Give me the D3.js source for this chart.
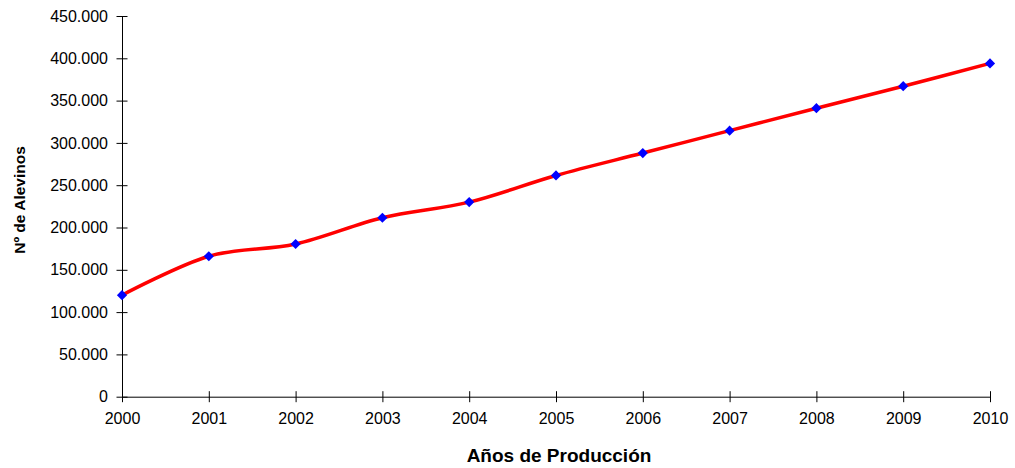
<!DOCTYPE html>
<html>
<head>
<meta charset="utf-8">
<script src="https://cdn.jsdelivr.net/npm/d3@7"></script>
<style>
  html, body { margin: 0; padding: 0; background: #fff; }
  svg { display: block; font-family: "Liberation Sans", Arial, sans-serif; }
</style>
</head>
<body>
<svg id="chart" width="1015" height="468"></svg>
<script>
// Producción anual de alevinos
const years = [2000, 2001, 2002, 2003, 2004, 2005, 2006, 2007, 2008, 2009, 2010];
const alevinos = [120000, 166000, 180500, 211500, 230000, 261500, 288000, 314500, 341000, 367000, 394000];
const yTicks = [0, 50000, 100000, 150000, 200000, 250000, 300000, 350000, 400000, 450000];
const xTitle = "Años de Producción";
const yTitle = "N\u00BA de Alevinos";

const svg = d3.select("#chart");
const plotLeft = 122, plotRight = 990, plotTop = 16, plotBottom = 396.7;

const x = d3.scaleLinear().domain([2000, 2010]).range([plotLeft, plotRight]);
const y = d3.scaleLinear().domain([0, 450000]).range([plotBottom, plotTop]);

const fmt = v => v === 0 ? "0" : d3.format(",")(v).replace(/,/g, ".");

// Eje Y
const yAxis = svg.append("g")
  .attr("transform", `translate(${plotLeft},0)`)
  .call(d3.axisLeft(y).tickValues(yTicks).tickSize(0).tickPadding(14).tickFormat(fmt));
yAxis.select(".domain").attr("stroke", "#000").attr("stroke-width", 1);
yAxis.selectAll(".tick line").attr("x1", -5.5).attr("x2", 5.5).attr("stroke", "#000");
yAxis.selectAll(".tick text").attr("font-size", 16).attr("fill", "#000")
  .attr("font-family", "Liberation Sans, Arial, sans-serif");

// Eje X
const xAxis = svg.append("g")
  .attr("transform", `translate(0,${plotBottom})`)
  .call(d3.axisBottom(x).tickValues(years).tickSize(0).tickPadding(16).tickFormat(d3.format("d")));
xAxis.select(".domain").attr("stroke", "#000").attr("stroke-width", 1);
xAxis.selectAll(".tick line").attr("y1", -5.5).attr("y2", 5.5).attr("stroke", "#000");
xAxis.selectAll(".tick text").attr("font-size", 16).attr("fill", "#000")
  .attr("font-family", "Liberation Sans, Arial, sans-serif");

// Serie suavizada
const data = years.map((yr, i) => ({ yr, v: alevinos[i] }));
const line = d3.line()
  .x(d => x(d.yr))
  .y(d => y(d.v))
  .curve(d3.curveCardinal.tension(0));

svg.append("path")
  .datum(data)
  .attr("fill", "none")
  .attr("stroke", "#ff0000")
  .attr("stroke-width", 3.5)
  .attr("d", line);

// Marcadores en rombo
svg.append("g").selectAll("path")
  .data(data)
  .join("path")
  .attr("transform", d => `translate(${x(d.yr)},${y(d.v)}) rotate(45)`)
  .attr("d", d3.symbol(d3.symbolSquare, 52)())
  .attr("fill", "#0000ff");

// Títulos de ejes
svg.append("text")
  .attr("x", 559)
  .attr("y", 462)
  .attr("text-anchor", "middle")
  .attr("font-size", 19)
  .attr("font-weight", "bold")
  .text(xTitle);

svg.append("text")
  .attr("transform", `translate(25,200) rotate(-90)`)
  .attr("text-anchor", "middle")
  .attr("font-size", 15.5)
  .attr("font-weight", "bold")
  .text(yTitle);
</script>
</body>
</html>
